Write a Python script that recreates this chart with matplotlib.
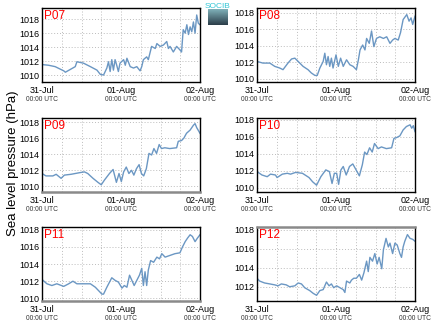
import numpy as np
import matplotlib
matplotlib.use("Agg")
import matplotlib.pyplot as plt

plt.rcParams['font.family'] = ['Liberation Sans', 'DejaVu Sans']

# hours since 31-Jul 00:00 UTC, sea level pressure (hPa)
t_p07 = [0, 2.0, 4.0, 6.6, 7.1, 8.6, 10.1, 10.6, 12.6, 14.7, 16.7, 17.7, 18.7, 19.7, 20.2, 20.7, 21.2,
         21.7, 22.2, 22.7, 23.2, 23.7, 24.8, 25.3, 25.8, 26.8, 27.8, 28.8, 29.8, 30.3, 30.8, 31.8,
         32.3, 33.3, 34.4, 34.9, 35.9, 36.9, 37.9, 38.4, 38.9, 39.9, 40.9, 41.9, 42.4, 42.9, 43.5,
         44.0, 44.5, 45.0, 45.5, 46.0, 46.5, 47.0, 47.5, 48]
p_p07 = [1011.5, 1011.4, 1011.2, 1010.6, 1010.4, 1010.8, 1011.2, 1011.9, 1011.7, 1011.2, 1010.7,
         1010.1, 1010.0, 1011.0, 1011.9, 1010.5, 1012.2, 1010.7, 1012.2, 1011.4, 1010.5, 1011.7,
         1012.2, 1011.4, 1012.4, 1011.2, 1011.0, 1011.2, 1010.6, 1011.2, 1012.2, 1012.6, 1012.2,
         1014.1, 1013.8, 1014.5, 1014.1, 1014.3, 1014.8, 1013.8, 1014.1, 1013.3, 1014.1, 1013.6,
         1013.3, 1016.5, 1016.0, 1017.2, 1015.8, 1016.9, 1016.2, 1017.6, 1016.0, 1018.6, 1017.4,
         1017.2]

t_p08 = [0, 1.8, 3.9, 5.4, 6.9, 7.9, 9.4, 10.5, 11.5, 12.5, 14.0, 15.5, 16.5, 17.6, 18.3, 19.1, 20.1,
         20.6, 21.1, 21.6, 22.1, 22.6, 23.1, 24.0, 24.7, 25.4, 26.2, 27.2, 28.2, 29.2, 30.2, 30.8,
         31.3, 32.1, 32.8, 33.3, 34.1, 34.8, 35.5, 36.3, 37.3, 38.4, 39.4, 40.4, 41.2, 41.9, 42.9,
         43.6, 44.4, 45.5, 46.2, 46.8, 47.3, 48]
p_p08 = [1012.1, 1011.9, 1011.9, 1011.5, 1011.3, 1011.1, 1011.9, 1012.4, 1012.5, 1012.1, 1011.5,
         1011.1, 1010.7, 1010.4, 1010.4, 1011.3, 1012.1, 1013.1, 1011.7, 1012.7, 1011.5, 1012.5,
         1011.3, 1012.9, 1011.5, 1012.5, 1011.5, 1012.3, 1011.7, 1011.5, 1011.1, 1012.3, 1013.5,
         1014.1, 1013.5, 1014.9, 1014.3, 1015.8, 1013.9, 1014.9, 1015.1, 1014.9, 1015.1, 1014.3,
         1014.7, 1014.9, 1014.7, 1015.6, 1017.2, 1017.8, 1017.0, 1017.4, 1016.6, 1017.6]

t_p09 = [0, 1.2, 3.3, 4.3, 5.8, 6.8, 8.8, 11.4, 12.9, 13.9, 15.5, 17.0, 18.0, 19.0, 20.5, 21.6, 22.6,
         23.4, 24.1, 24.8, 25.6, 26.4, 27.2, 27.9, 28.7, 29.5, 30.2, 30.9, 31.7, 32.5, 33.3, 34.0,
         34.8, 35.6, 36.3, 37.3, 38.8, 40.9, 41.4, 42.4, 43.1, 43.9, 45.0, 46.0, 46.5, 47.0, 48]
p_p09 = [1011.6, 1011.3, 1011.3, 1011.5, 1011.0, 1011.4, 1011.5, 1011.7, 1011.8, 1011.6, 1011.0,
         1010.5, 1010.2, 1010.8, 1011.6, 1012.1, 1010.5, 1011.6, 1010.6, 1011.8, 1012.4, 1011.6,
         1012.0, 1011.4, 1012.2, 1012.7, 1011.6, 1011.3, 1012.2, 1014.1, 1013.9, 1014.7, 1014.1,
         1015.2, 1014.7, 1014.8, 1014.7, 1014.8, 1015.6, 1015.7, 1016.0, 1016.6, 1017.0, 1017.6,
         1017.8, 1017.3, 1016.6]

t_p10 = [0, 1.5, 3.1, 4.1, 5.6, 6.1, 7.7, 9.2, 10.2, 11.7, 13.8, 15.8, 16.9, 18.1, 19.4, 20.9, 22.0,
         22.8, 23.5, 24.2, 24.8, 25.5, 26.2, 27.1, 28.1, 29.1, 30.1, 31.1, 32.0, 32.7, 33.4, 34.2,
         35.0, 35.7, 36.8, 37.8, 39.3, 40.9, 41.6, 42.4, 43.4, 44.4, 45.4, 46.5, 47.0, 47.5, 48]
p_p10 = [1011.9, 1011.5, 1011.3, 1011.6, 1011.5, 1011.2, 1011.6, 1011.7, 1011.6, 1011.8, 1011.7,
         1011.2, 1010.7, 1010.3, 1011.3, 1012.1, 1011.9, 1010.5, 1011.7, 1011.7, 1010.4, 1012.1,
         1012.5, 1011.5, 1012.5, 1012.8, 1012.1, 1011.4, 1012.7, 1014.2, 1013.9, 1014.7, 1014.2,
         1015.2, 1014.6, 1014.8, 1014.6, 1014.7, 1015.8, 1015.9, 1016.1, 1016.8, 1017.2, 1017.4,
         1017.0, 1017.3, 1016.6]

t_p11 = [0, 1.5, 3.0, 4.5, 6.6, 8.1, 9.4, 10.6, 12.6, 14.7, 16.2, 17.2, 18.2, 18.7, 19.7, 21.2, 22.2,
         23.2, 24.3, 25.0, 25.8, 26.6, 27.3, 28.0, 28.8, 29.6, 30.3, 30.8, 31.3, 31.8, 32.3, 33.0,
         33.9, 34.9, 35.7, 36.4, 37.4, 38.9, 40.4, 41.9, 42.7, 43.5, 44.2, 45.0, 45.7, 46.5, 47.2, 48]
p_p11 = [1012.2, 1011.7, 1011.5, 1011.7, 1011.4, 1011.7, 1012.0, 1011.7, 1011.7, 1011.7, 1011.3,
         1010.9, 1010.5, 1010.5, 1011.3, 1012.4, 1012.1, 1011.9, 1011.2, 1011.5, 1011.3, 1012.7,
         1012.1, 1011.5, 1012.1, 1012.7, 1013.5, 1011.5, 1013.1, 1011.5, 1013.3, 1014.4, 1014.2,
         1014.8, 1014.6, 1015.2, 1014.8, 1015.0, 1015.2, 1015.3, 1016.0, 1016.6, 1017.0, 1017.4,
         1017.2, 1016.6, 1017.0, 1017.4]

t_p12 = [0, 0.8, 2.3, 3.9, 5.4, 6.4, 7.4, 8.9, 9.9, 11.5, 12.5, 13.5, 14.5, 16.0, 17.1, 18.1, 19.1,
         20.1, 21.1, 21.9, 22.6, 23.3, 24.2, 25.2, 26.2, 26.7, 27.2, 28.2, 28.7, 29.4, 30.2, 31.1,
         31.8, 32.5, 33.3, 33.8, 34.3, 35.1, 35.8, 36.5, 37.1, 37.9, 38.4, 39.2, 39.9, 40.4, 41.2,
         41.9, 42.6, 43.4, 43.9, 44.4, 44.9, 45.7, 46.5, 47.3, 48]
p_p12 = [1012.9, 1012.6, 1012.4, 1012.3, 1012.2, 1012.1, 1012.3, 1012.2, 1012.0, 1012.1, 1012.4,
         1012.3, 1011.9, 1011.6, 1011.3, 1011.1, 1011.6, 1011.7, 1012.5, 1012.1, 1012.3, 1011.9,
         1012.1, 1011.9, 1011.7, 1011.4, 1012.6, 1012.4, 1012.7, 1012.9, 1012.9, 1013.3, 1012.7,
         1013.5, 1014.7, 1013.6, 1015.1, 1014.7, 1015.5, 1014.4, 1015.1, 1013.9, 1015.9, 1017.1,
         1016.2, 1016.6, 1015.5, 1016.6, 1016.4, 1015.5, 1015.1, 1016.2, 1016.8, 1017.5, 1017.1,
         1017.0, 1016.8]

stations = ['P07', 'P08', 'P09', 'P10', 'P11', 'P12']
times = [t_p07, t_p08, t_p09, t_p10, t_p11, t_p12]
values = [p_p07, p_p08, p_p09, p_p10, p_p11, p_p12]
ylims = [(1009.0, 1019.6), (1009.6, 1018.6), (1009.3, 1018.5),
         (1009.5, 1018.2), (1009.7, 1018.3), (1010.5, 1018.3)]
date_ticks = [0, 24, 48]
date_labels = ['31-Jul', '01-Aug', '02-Aug']

W, H = 434, 327
fig = plt.figure(figsize=(W / 100, H / 100), dpi=100)

lefts = [42, 257]
tops = [8, 118, 227]
aw, ah = 158, 74

axes = []
for i, name in enumerate(stations):
    r, c = divmod(i, 2)
    ax = fig.add_axes([lefts[c] / W, 1 - (tops[r] + ah) / H, aw / W, ah / H])
    axes.append(ax)
    ax.plot(times[i], values[i], color='#6b97c3', lw=1.0)
    ax.set_xlim(0, 48)
    ax.set_ylim(*ylims[i])
    lo = 1012 if name == 'P12' else 1010
    ax.set_yticks(np.arange(lo, 1019, 2))
    ax.set_xticks(date_ticks)
    ax.set_xticklabels(date_labels)
    ax.set_xticks(np.arange(6, 48, 6), minor=True)
    ax.grid(True, which='both', axis='x', ls=(0, (1, 2)), color='#bcbcbc', lw=0.7)
    ax.grid(True, which='major', axis='y', ls=(0, (1, 2)), color='#bcbcbc', lw=0.7)
    ax.tick_params(axis='both', which='both', direction='in', length=0, labelsize=6.5, pad=2)
    ax.tick_params(axis='x', pad=3)
    for s in ax.spines.values():
        s.set_linewidth(1.0)
    ax.text(0.015, 0.97, name, transform=ax.transAxes, color='red', fontsize=8.5,
            va='top', ha='left')
    for tx in date_ticks:
        ax.text(tx, -0.185, '00:00 UTC', transform=ax.get_xaxis_transform(),
                fontsize=4.8, color='#333333', ha='center', va='top')

for k, side in [(2, 'bottom'), (4, 'bottom'), (5, 'top')]:
    axes[k].spines[side].set_color('#8a8a8a')
    axes[k].spines[side].set_linewidth(1.8)

fig.text(13 / W, 0.5, 'Sea level pressure (hPa)', rotation=90, fontsize=9.5,
         ha='center', va='center')

# SOCIB logo
lax = fig.add_axes([208 / W, 1 - 25 / H, 20 / W, 16 / H])
grad = np.linspace(0, 1, 32).reshape(-1, 1)
lax.imshow(grad, aspect='auto', cmap=matplotlib.colors.LinearSegmentedColormap.from_list(
    'logo', ['#7fb0b8', '#2c3e4a']))
lax.axis('off')
fig.text(218 / W, 1 - 6 / H, 'SOCIB', color='#33c6d6', fontsize=6, ha='center', va='center')

fig.savefig('out.png', dpi=100)
